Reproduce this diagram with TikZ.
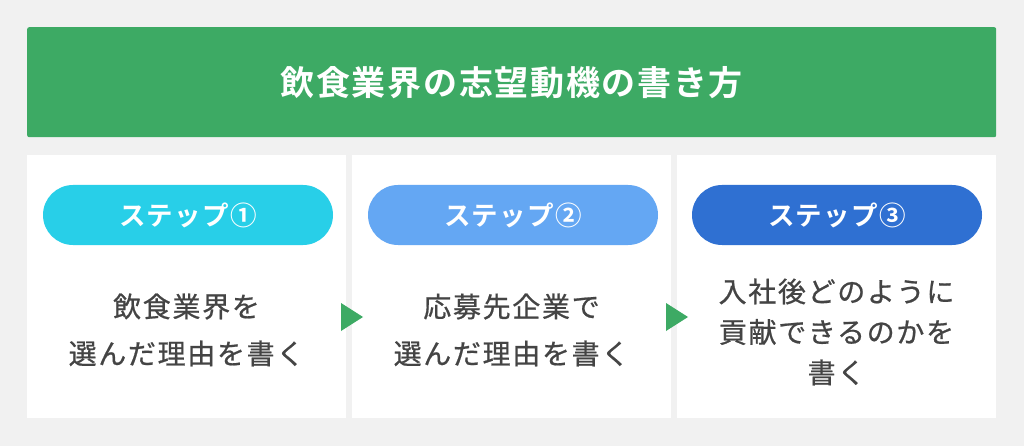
\documentclass[tikz,border=0pt]{standalone}
\usepackage{fontspec}
\newfontfamily\jpb[LetterSpace=5]{Noto Sans CJK JP Bold}
\newfontfamily\jpp[LetterSpace=5]{Noto Sans CJK JP Bold}
\newfontfamily\jp[LetterSpace=6,FakeBold=0.7]{Noto Sans CJK JP}
\definecolor{bg}{HTML}{F1F1F1}
\definecolor{hdr}{HTML}{3DAA64}
\definecolor{pillA}{HTML}{28CFE8}
\definecolor{pillB}{HTML}{64A7F3}
\definecolor{pillC}{HTML}{2F70D2}
\definecolor{txt}{HTML}{444444}
\tikzset{
  panel/.style={fill=white, draw=none, minimum width=319pt, minimum height=263pt, inner sep=0pt, anchor=north west},
  pill/.style={rounded corners=30pt, minimum width=290pt, minimum height=60pt, inner sep=0pt, text=white, font=\jpp\fontsize{26.5}{30}\selectfont},
  body/.style={text=txt, align=center, inner sep=0pt},
  tri/.style={fill=hdr, draw=none},
}
\begin{document}
\begin{tikzpicture}[x=1pt,y=-1pt]
\useasboundingbox (0,0) rectangle (1024,446);
\fill[bg] (0,0) rectangle (1024,446);
\node[fill=hdr, rounded corners=2pt, minimum width=969pt, minimum height=110pt, inner sep=0pt, anchor=north west, text=white, font=\jpb\fontsize{34}{38}\selectfont] (title) at (27,27) {\raisebox{-3pt}{飲食業界の志望動機の書き方}};
\node[panel] (p1) at (27,155) {};
\node[panel] (p2) at (352,155) {};
\node[panel] (p3) at (677,155) {};
\node[pill, fill=pillA] (s1) at (188,215) {ステップ①};
\node[pill, fill=pillB] (s2) at (513,215) {ステップ②};
\node[pill, fill=pillC] (s3) at (837,215) {ステップ③};
\node[body, font=\jp\fontsize{28}{47}\selectfont] (t1) at (186.5,330) {飲食業界を\\選んだ理由を書く};
\node[body, font=\jp\fontsize{28}{47}\selectfont] (t2) at (511.5,330) {応募先企業で\\選んだ理由を書く};
\node[body, font=\jp\fontsize{28}{40.5}\selectfont] (t3) at (836.5,332) {入社後どのように\\貢献できるのかを\\書く};
\coordinate (a1) at (341,303);
\coordinate (b1) at (341,331);
\coordinate (c1) at (363,317);
\coordinate (a2) at (666,303);
\coordinate (b2) at (666,331);
\coordinate (c2) at (688,317);
\fill[tri] (a1) -- (c1) -- (b1) -- cycle;
\fill[tri] (a2) -- (c2) -- (b2) -- cycle;
\end{tikzpicture}
\end{document}
